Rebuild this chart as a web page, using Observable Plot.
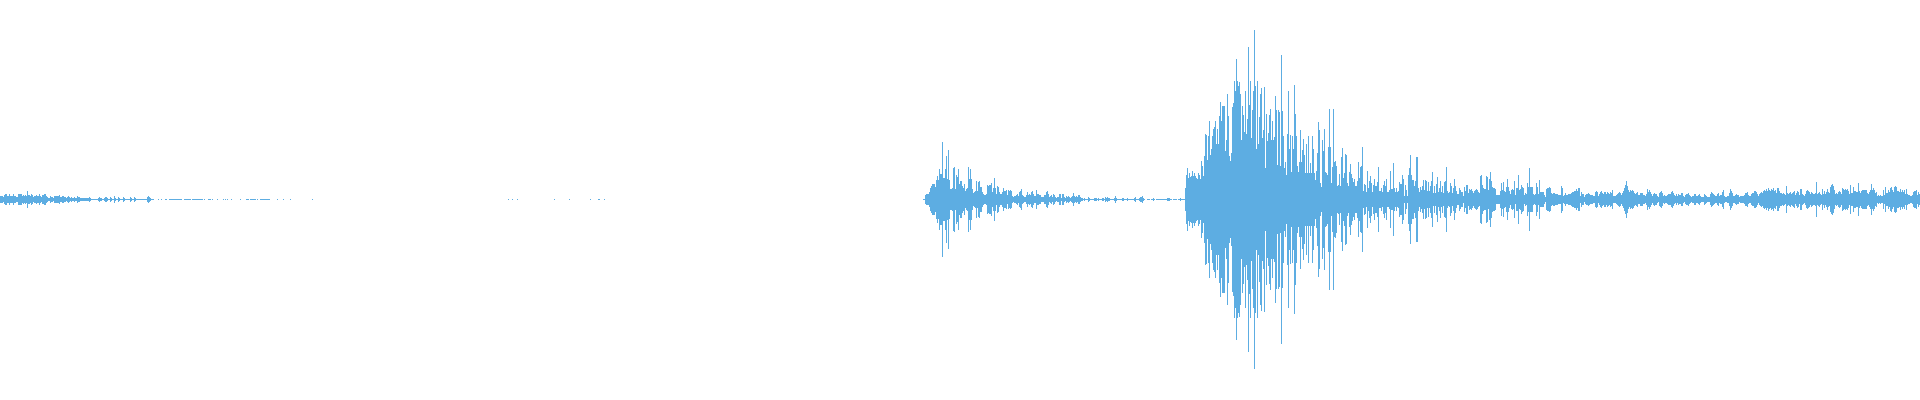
<!DOCTYPE html>
<html><head><meta charset="utf-8">
<script src="https://cdn.jsdelivr.net/npm/d3@7"></script>
<script src="https://cdn.jsdelivr.net/npm/@observablehq/plot@0.6"></script>
<style>html,body{margin:0;padding:0;background:#fff}svg{display:block}</style>
</head><body><div id="chart"></div>
<script>
const introStart = 0;
const introAmps = [3,3,3,2,4,5,5,3,3,5,3,3,3,5,3,3,2,2,5,5,5,5,3,4,3,4,3,8,4,4,3,5,4,2,3,3,4,3,3,5,3,2,4,4,5,5,3,2,1,1,3,2,2,1,3,3,3,3,3,4,2,2,3,3,2,2,1,2,3,2,1,2,1,1,2,1,1,3,2,2,1,1,1,1,1,1,1,1,1,2,1,0,0,0,0,0,0,0,1,2,1,1,0,0,1,2,2,1,0,0,2,1,0,0,3,1,0,0,2,1,0,0,0,2,1,0,0,0,0,0,2,1,0,0,2,1,0,0,0,0,0,0,0,0,0,0,0,2,3,2,1,0,0,0];
const sparseSamples = [158,161,165,166,169,170,171,172,173,174,175,176,177,178,179,180,181,184,185,186,187,188,189,190,192,193,194,195,196,197,198,199,200,201,202,204,208,209,210,212,217,223,225,227,231,240,246,247,248,250,251,252,253,254,255,257,260,261,262,263,264,265,266,267,268,269,277,283,290,312,508,512,517,554,569,590,598,599,604];
const attackStart = 923;
const attackAmps = [0,0,4,5,5,5,7,11,13,15,15,15,12,19,23,19,30,25,25,57,21,21,30,43,20,49,19,10,10,11,31,32,10,24,22,30,15,18,18,13,11,15,8,10,11,32,20,30,20,10,6,7,8,18,8,17,18,12,12,7,5,4,4,5,14,13,14,14,16,7,11,21,11,5,13,12,7,5,5,7,11,8,8,9,4,9,8,9,8,3,2,3,3,4,5,3,7,8,10,4,3,2,2,4,7,4,5,4,7,8,5,3,3,9,5,5,4,4,2,2,2,4,4,7,8,5,2,3,4,2,5,4,2,1,2,2,5,5,1,5,5,2,1,3,2,3,2,1,2,3,6,3,2,3,2,4,4,2,1,1,0,1,0,0,0,2,1,0,0,0,0,1,1,1,0,1,0,0,0,1,1,0,2,1,2,1,1,0,0,0,0,1,3,1,0,0,0,0,0,1,1,0,0,0,1,0,0,0,0,0,0,1,2,0,0,0,1,2,2,3,1,0,null,null,0,0,0,null,0,0,1,0,null,0,0,0,0,0,0,0,0,0,0,0,1,1,1,0,0,null,0,0,0,0,null,0,0,1,0,0,0,0];
const burstStart = 1185;
const burstAmps = [11,24,31,21,26,22,23,28,23,26,23,21,20,26,24,20,38,33,23,43,65,64,39,63,78,44,50,63,70,72,78,55,70,55,83,97,78,93,93,93,48,59,105,83,43,38,46,92,96,118,108,140,118,113,117,105,59,93,84,67,108,65,80,152,94,118,61,89,108,169,113,50,118,55,82,105,111,61,69,112,31,85,58,66,84,90,59,78,59,62,103,89,34,89,87,33,144,88,63,31,37,24,65,108,50,64,27,63,50,114,85,63,33,27,37,69,37,49,60,44,26,55,26,63,26,36,26,63,50,26,19,28,46,77,69,16,12,59,48,70,27,26,24,52,90,52,16,32,90,37,38,33,13,14,25,13,42,51,21,26,45,44,16,13,27,35,25,21,17,20,13,13,18,37,21,32,33,52,8,15,14,7,28,11,18,23,16,7,14,20,13,13,17,32,8,8,11,7,14,18,13,20,7,7,9,28,10,10,36,11,7,11,7,8,17,15,15,24,20,3,14,9,3,24,31,44,24,19,19,13,18,42,42,11,7,12,9,13,19,9,19,18,8,17,8,13,18,27,6,13,6,15,22,7,11,18,7,13,6,17,18,32,8,6,7,16,13,6,11,20,13,8,5,5,11,9,7,7,3,12,8,14,14,6,10];
const tailStart = 1470;
const tailAmpsA = [9,10,8,6,8,9,10,9,7,6,23,24,14,11,10,10,23,22,9,20,27,18,12,11,11,10,4,4,4,4,8,16,9,17,8,7,12,20,12,8,5,9,10,9,18,4,11,11,24,9,10,14,12,11,4,6,5,16,12,31,12,12,12,5,4,5,16,12,5,19,7,7,7,7,4,2,10,11,11,12,11,6,5,6,6,5,5,5,4,4,4,13,11,3,4,6,4,4,5,5,5,6,7,7,8,8,10,8,11,11,3,7,5,5,2,4,5,5,6,5,4,4,4,3,3,7,8,7,3,5];
const tailAmpsB = [7,8,6,5,7,7,5,7,6,5,7,6,9,3,3,3,4,5,6,7,6,4,6,8,11,14,18,13,9,7,9,8,9,8,6,5,6,7,4,4,6,6,6,4,4,3,5,10,7,9,7,5,3,5,6,5,5,3,2,6,7,8,6,3,4,3,3,4,5,5,5,7,8,6,4,3,5,3,5,4,4,6,6,3,2,4,5,5,6,4,3,2,3,3,5,5,3,3,4,5,3,2,2,2,5,4,3,2,2,2,5,7,6,5,4,3,3,5,6,3,4,4,7,9,3,2,2,3,3,6,10,8,6,3,3,4,5,4,4,2,3,3,3,3,4,6,6,7,4,3,3,5,6,6,8,8,7,5,3,5];
const tailAmpsC = [6,7,6,8,9,8,10,8,11,9,8,10,9,11,8,9,6,11,11,8,6,6,5,6,5,4,13,6,5,6,7,5,6,7,8,4,6,8,7,4,10,10,5,4,3,5,8,9,8,7,5,7,6,5,5,6,17,5,6,7,5,4,10,5,8,5,7,10,7,6,12,14,15,13,9,5,6,5,7,8,7,5,11,10,9,10,9,10,8,5,14,6,6,12,8,8,7,7,16,8,6,8,9,9,9,9,9,6,5,7,9,15,9,11,9,6,7,3,4,3,4,3,3,9,4,12,6,6,9,7,11,12,9,7,12,13,12,8,8,7,10,7,9,7,9,5,10,5,4,4,3,3,4,7,8,8,9,4,7,5];

const series = [
  ...introAmps.map((a, i) => ({sample: introStart + i, amp: a})),
  ...sparseSamples.map(s => ({sample: s, amp: 0})),
  ...attackAmps.map((a, i) => ({sample: attackStart + i, amp: a})),
  ...burstAmps.map((a, i) => ({sample: burstStart + i, amp: a})),
  ...[...tailAmpsA, ...tailAmpsB, ...tailAmpsC].map((a, i) => ({sample: tailStart + i, amp: a}))
].filter(d => d.amp !== null);

const chart = Plot.plot({
  width: 1920, height: 400,
  marginTop: 0, marginRight: 0, marginBottom: 0, marginLeft: 0,
  x: {domain: [0, 1920], axis: null},
  y: {domain: [-200.5, 199.5], axis: null},
  marks: [
    Plot.ruleX(series, {x: "sample", y1: d => -d.amp - 0.5, y2: d => d.amp + 0.5, stroke: "#5DADE2", strokeWidth: 1})
  ]
});
document.getElementById("chart").append(chart);
</script></body></html>
